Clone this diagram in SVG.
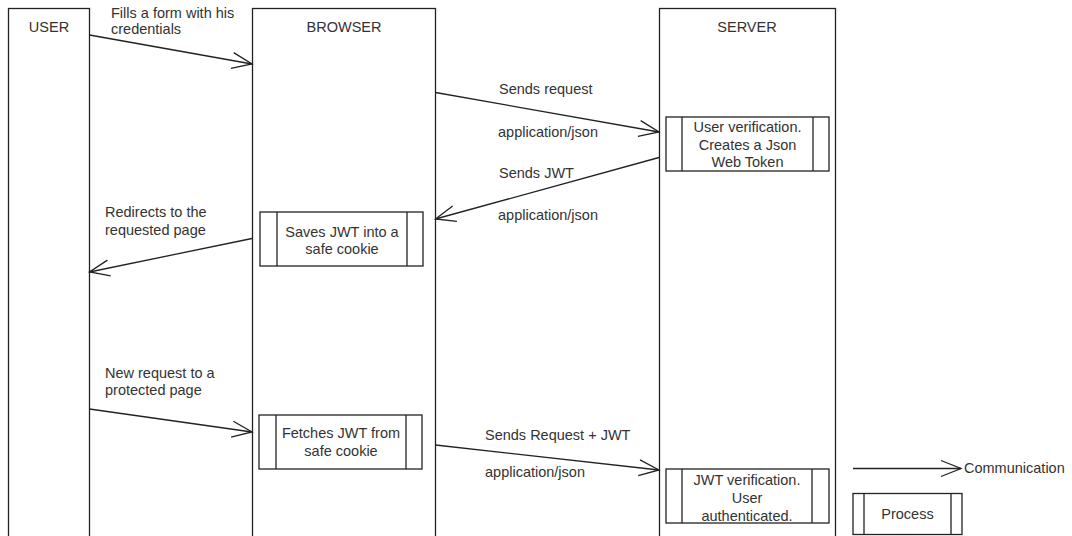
<svg xmlns="http://www.w3.org/2000/svg" width="1072" height="536" viewBox="0 0 1072 536">
<style>
.lane{fill:#fff;stroke:#222;stroke-width:1.3}
.proc{fill:#fff;stroke:#222;stroke-width:1.3}
.bar{stroke:#222;stroke-width:1.3}
.t{font-family:"Liberation Sans",Arial,sans-serif;font-size:14.5px;fill:#333}
.c{text-anchor:middle}
.edge{fill:none;stroke:#222;stroke-width:1.3;marker-end:url(#open)}
</style>
<defs>
<marker id="open" markerUnits="userSpaceOnUse" markerWidth="26" markerHeight="22" refX="21" refY="9" orient="auto" overflow="visible">
<path d="M1,1 L21,9 L1,17" fill="none" stroke="#222" stroke-width="1.3"/>
</marker>
</defs>
<rect width="1072" height="536" fill="#fff"/>

<g id="lane-user">
<rect class="lane" x="8.5" y="8.5" width="81" height="540"/>
<text class="t c" x="49" y="32">USER</text>
</g>
<g id="lane-browser">
<rect class="lane" x="252.5" y="8.5" width="183" height="540"/>
<text class="t c" x="344" y="32">BROWSER</text>
</g>
<g id="lane-server">
<rect class="lane" x="659.5" y="8.5" width="176" height="540"/>
<text class="t c" x="747" y="32">SERVER</text>
</g>

<g id="proc-user-verification">
<rect class="proc" x="666" y="117" width="163" height="54"/>
<line class="bar" x1="682" y1="117" x2="682" y2="171"/>
<line class="bar" x1="813" y1="117" x2="813" y2="171"/>
<text class="t c" x="747.5" y="132">User verification.</text>
<text class="t c" x="747.5" y="150">Creates a Json</text>
<text class="t c" x="747.5" y="167">Web Token</text>
</g>

<g id="proc-saves-jwt">
<rect class="proc" x="260" y="212" width="163" height="54"/>
<line class="bar" x1="277" y1="212" x2="277" y2="266"/>
<line class="bar" x1="407" y1="212" x2="407" y2="266"/>
<text class="t c" x="342" y="237">Saves JWT into a</text>
<text class="t c" x="342" y="254">safe cookie</text>
</g>

<g id="proc-fetches-jwt">
<rect class="proc" x="259" y="415" width="163" height="54"/>
<line class="bar" x1="276" y1="415" x2="276" y2="469"/>
<line class="bar" x1="406" y1="415" x2="406" y2="469"/>
<text class="t c" x="341" y="438">Fetches JWT from</text>
<text class="t c" x="341" y="456">safe cookie</text>
</g>

<g id="proc-jwt-verification">
<rect class="proc" x="666" y="469" width="163" height="54"/>
<line class="bar" x1="682" y1="469" x2="682" y2="523"/>
<line class="bar" x1="812" y1="469" x2="812" y2="523"/>
<text class="t c" x="747" y="485">JWT verification.</text>
<text class="t c" x="747" y="503">User</text>
<text class="t c" x="747" y="521">authenticated.</text>
</g>

<g id="connectors">
<path class="edge" d="M89.5,35 L252,64"/>
<path class="edge" d="M435.5,92.5 L659,132"/>
<path class="edge" d="M659,157.5 L435.5,219"/>
<path class="edge" d="M252,238.5 L89.5,272"/>
<path class="edge" d="M89.5,409 L252,432"/>
<path class="edge" d="M435.5,445 L659,470"/>
</g>

<g id="connector-labels">
<text class="t" x="111" y="18">Fills a form with his</text>
<text class="t" x="111" y="34">credentials</text>
<text class="t" x="499" y="94">Sends request</text>
<text class="t" x="498" y="137">application/json</text>
<text class="t" x="499" y="178">Sends JWT</text>
<text class="t" x="498" y="220">application/json</text>
<text class="t" x="105" y="217">Redirects to the</text>
<text class="t" x="105" y="235">requested page</text>
<text class="t" x="105" y="378">New request to a</text>
<text class="t" x="105" y="395">protected page</text>
<text class="t" x="485" y="440">Sends Request + JWT</text>
<text class="t" x="485" y="477">application/json</text>
</g>

<g id="legend-communication">
<path class="edge" d="M853,468.5 L961,468.5"/>
<text class="t" x="964" y="473">Communication</text>
</g>
<g id="legend-process">
<rect class="proc" x="853" y="493.5" width="109" height="41"/>
<line class="bar" x1="864" y1="493.5" x2="864" y2="534.5"/>
<line class="bar" x1="951" y1="493.5" x2="951" y2="534.5"/>
<text class="t c" x="907.5" y="519">Process</text>
</g>
</svg>
